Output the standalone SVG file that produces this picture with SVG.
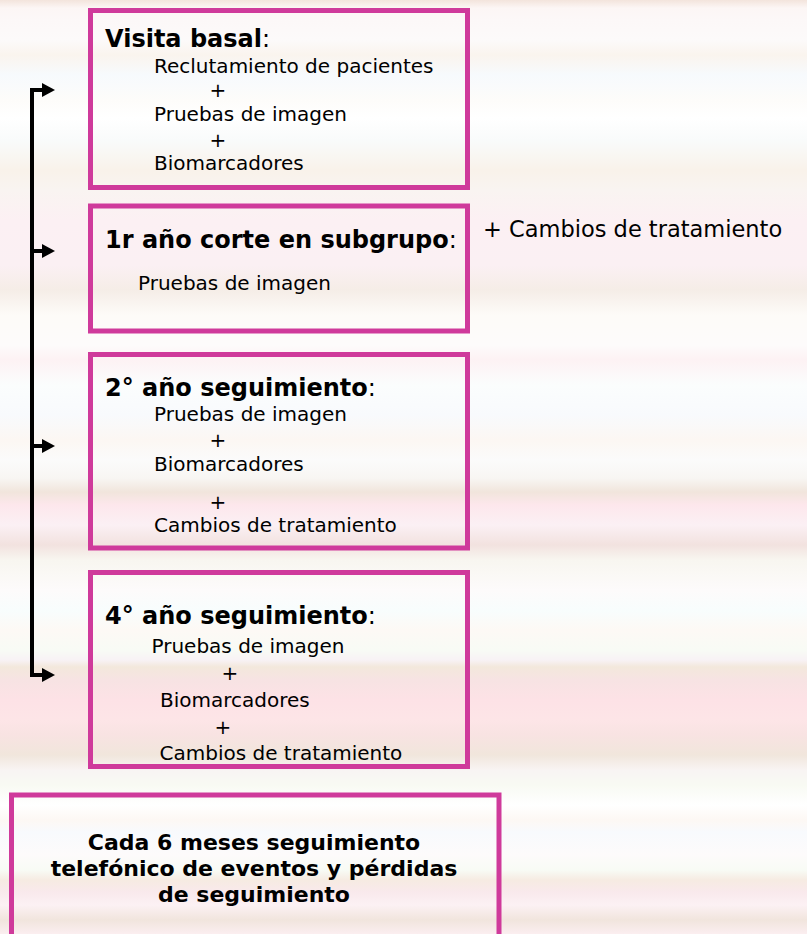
<svg xmlns="http://www.w3.org/2000/svg" width="807" height="934" viewBox="0 0 807 934">
<defs>
<linearGradient id="bg" gradientUnits="userSpaceOnUse" x1="0" y1="0" x2="0" y2="934">
<stop offset="0" stop-color="#f3e4dc"/>
<stop offset="0.0086" stop-color="#fcf6f5"/>
<stop offset="0.0214" stop-color="#fcf8f8"/>
<stop offset="0.0428" stop-color="#fcfafa"/>
<stop offset="0.0589" stop-color="#faf4ee"/>
<stop offset="0.0803" stop-color="#f7fafd"/>
<stop offset="0.1071" stop-color="#fdfcfa"/>
<stop offset="0.1263" stop-color="#ffffff"/>
<stop offset="0.1499" stop-color="#f9fbfb"/>
<stop offset="0.1820" stop-color="#f9f2ea"/>
<stop offset="0.2034" stop-color="#f9f4f1"/>
<stop offset="0.2355" stop-color="#fcf0f3"/>
<stop offset="0.2837" stop-color="#fbf0f3"/>
<stop offset="0.3105" stop-color="#f5ede7"/>
<stop offset="0.3373" stop-color="#fdfbf8"/>
<stop offset="0.3694" stop-color="#fdfbfb"/>
<stop offset="0.3854" stop-color="#fdf2f4"/>
<stop offset="0.4122" stop-color="#fbfdfd"/>
<stop offset="0.4443" stop-color="#f8fafd"/>
<stop offset="0.4711" stop-color="#fcf7f3"/>
<stop offset="0.4925" stop-color="#fbfbfb"/>
<stop offset="0.5118" stop-color="#f8f6f3"/>
<stop offset="0.5268" stop-color="#f1e5dc"/>
<stop offset="0.5407" stop-color="#fde7ec"/>
<stop offset="0.5621" stop-color="#fbf0f4"/>
<stop offset="0.5835" stop-color="#f2e2df"/>
<stop offset="0.5996" stop-color="#f8f6f0"/>
<stop offset="0.6317" stop-color="#fdfbfb"/>
<stop offset="0.6531" stop-color="#f8fdfd"/>
<stop offset="0.6745" stop-color="#fdf9f5"/>
<stop offset="0.6959" stop-color="#f8fbf5"/>
<stop offset="0.7066" stop-color="#f8f2f5"/>
<stop offset="0.7141" stop-color="#f3e8dc"/>
<stop offset="0.7281" stop-color="#f7e3e3"/>
<stop offset="0.7495" stop-color="#fde2e6"/>
<stop offset="0.7709" stop-color="#fde5e7"/>
<stop offset="0.7869" stop-color="#f8e3e2"/>
<stop offset="0.8084" stop-color="#f1e6dc"/>
<stop offset="0.8244" stop-color="#f8f4f3"/>
<stop offset="0.8405" stop-color="#f8faf3"/>
<stop offset="0.8619" stop-color="#ffffff"/>
<stop offset="0.8779" stop-color="#fdf8f4"/>
<stop offset="0.8908" stop-color="#f8fafd"/>
<stop offset="0.9154" stop-color="#fdfbfb"/>
<stop offset="0.9315" stop-color="#f8fbf5"/>
<stop offset="0.9422" stop-color="#f6ebe2"/>
<stop offset="0.9550" stop-color="#f9e9ec"/>
<stop offset="0.9690" stop-color="#fcf1f4"/>
<stop offset="0.9850" stop-color="#f1e5dd"/>
<stop offset="1" stop-color="#fbeef0"/>
</linearGradient>
</defs>
<style>
.box{fill:none;stroke:#cf3a9b;stroke-width:5}
.t{font-family:"DejaVu Sans","Verdana",sans-serif;fill:#000}
.r{font-size:20px}
.h{font-size:24px;font-weight:bold}
.side{font-size:22.5px}
.f{font-size:22px;font-weight:bold}
.c{fill:none;stroke:#000;stroke-width:4}
.ah{fill:#000}
</style>
<rect x="0" y="0" width="807" height="934" fill="url(#bg)"/>

<g id="connectors">
<path class="c" d="M42,90 H32 V675 H42"/>
<path class="c" d="M32,251 H42"/>
<path class="c" d="M32,446 H42"/>
<path class="ah" d="M42,83 L55,90 L42,97 Z"/>
<path class="ah" d="M42,244 L55,251 L42,258 Z"/>
<path class="ah" d="M42,439 L55,446 L42,453 Z"/>
<path class="ah" d="M42,668 L55,675 L42,682 Z"/>
</g>

<g id="visita-basal">
<rect class="box" x="90.5" y="10.5" width="377" height="177"/>
<text class="t h" x="105" y="47">Visita basal<tspan style="font-weight:normal">:</tspan></text>
<text class="t r" x="154" y="73">Reclutamiento de pacientes</text>
<text class="t r" x="209.6" y="97">+</text>
<text class="t r" x="154" y="121">Pruebas de imagen</text>
<text class="t r" x="209.6" y="147">+</text>
<text class="t r" x="154" y="170">Biomarcadores</text>
</g>

<g id="ano1">
<rect class="box" x="90.5" y="206" width="377" height="125"/>
<text class="t h" x="105" y="248">1r año corte en subgrupo<tspan style="font-weight:normal">:</tspan></text>
<text class="t r" x="138" y="290">Pruebas de imagen</text>
</g>

<g id="cambios-side">
<text class="t side" x="483" y="237">+ Cambios de tratamiento</text>
</g>

<g id="ano2">
<rect class="box" x="90.5" y="354.5" width="377" height="193.5"/>
<text class="t h" x="105" y="396">2° año seguimiento<tspan style="font-weight:normal">:</tspan></text>
<text class="t r" x="154" y="421">Pruebas de imagen</text>
<text class="t r" x="209.6" y="447">+</text>
<text class="t r" x="154" y="471">Biomarcadores</text>
<text class="t r" x="209.6" y="509">+</text>
<text class="t r" x="154" y="532">Cambios de tratamiento</text>
</g>

<g id="ano4">
<rect class="box" x="90.5" y="572.5" width="377" height="194"/>
<text class="t h" x="105" y="624">4° año seguimiento<tspan style="font-weight:normal">:</tspan></text>
<text class="t r" x="151.5" y="653">Pruebas de imagen</text>
<text class="t r" x="221.6" y="680">+</text>
<text class="t r" x="160" y="707">Biomarcadores</text>
<text class="t r" x="214.6" y="734">+</text>
<text class="t r" x="159.5" y="760">Cambios de tratamiento</text>
</g>

<g id="seguimiento-telefonico">
<rect class="box" x="11.5" y="795" width="487.5" height="200"/>
<text class="t f" x="254" y="850" text-anchor="middle">Cada 6 meses seguimiento</text>
<text class="t f" x="254" y="876" text-anchor="middle">telefónico de eventos y pérdidas</text>
<text class="t f" x="254" y="901.5" text-anchor="middle">de seguimiento</text>
</g>
</svg>
